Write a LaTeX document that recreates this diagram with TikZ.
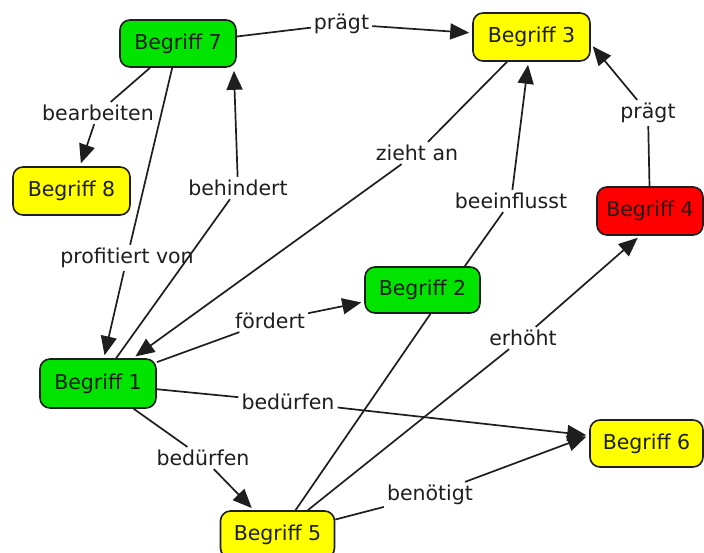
\documentclass[tikz,border=0pt]{standalone}
\usepackage{fontspec}
\setmainfont{DejaVu Sans}
\usetikzlibrary{arrows.meta,calc}
\definecolor{cgreen}{RGB}{0,228,0}
\definecolor{cyellow}{RGB}{255,255,0}
\definecolor{cred}{RGB}{255,0,0}
\definecolor{cline}{RGB}{30,30,30}
\begin{document}
\begin{tikzpicture}[x=1pt,y=-1pt,
  concept/.style={draw=cline, line width=1.6pt, rounded corners=10pt,
    minimum width=116pt, minimum height=47pt, inner sep=0pt,
    font=\fontsize{20.5}{23}\selectfont, text=cline},
  phrase/.style={inner sep=3pt, font=\fontsize{20.5}{23}\selectfont, text=cline},
  conn/.style={draw=cline, line width=1.7pt},
  arr/.style={conn, -{Triangle[length=19pt,width=16pt]}, shorten >=3pt}
]
\clip (0,0) rectangle (704,553);
\fill[white] (0,0) rectangle (704,553);

% concepts
\node[concept, fill=cgreen]  (B7) at (178,43.5)  {Begriff 7};
\node[concept, fill=cyellow, minimum width=117pt, minimum height=48pt] (B3) at (531.5,37) {Begriff 3};
\node[concept, fill=cyellow, minimum width=117pt, minimum height=48pt] (B8) at (71.5,191) {Begriff 8};
\node[concept, fill=cred, minimum width=106pt, minimum height=48pt] (B4) at (650,211) {Begriff 4};
\node[concept, fill=cgreen, minimum width=115pt, minimum height=46pt] (B2) at (422.5,290) {Begriff 2};
\node[concept, fill=cgreen, minimum height=49pt] (B1) at (98,383.5) {Begriff 1};
\node[concept, fill=cyellow, minimum width=113pt] (B6) at (646.5,443.5) {Begriff 6};
\node[concept, fill=cyellow, minimum width=114pt] (B5) at (277.5,534.5) {Begriff 5};

% linking phrases
\node[phrase] (p1)  at (341.5,24)  {prägt};
\node[phrase] (p2)  at (98,113)    {bearbeiten};
\node[phrase] (p3)  at (127,258)   {profitiert von};
\node[phrase] (p4)  at (238,188)   {behindert};
\node[phrase] (p5)  at (417,153)   {zieht an};
\node[phrase] (p6)  at (511,201)   {beeinflusst};
\node[phrase] (p7)  at (648,113)   {prägt};
\node[phrase] (p8)  at (270,321)   {fördert};
\node[phrase] (p9)  at (523,338)   {erhöht};
\node[phrase] (p10) at (288,402)   {bedürfen};
\node[phrase] (p11) at (203,458)   {bedürfen};
\node[phrase] (p12) at (430,495)   {benötigt};

\coordinate (B6in) at ([yshift=8pt]B6.west);

% connectors
\draw[conn] (B7) -- (p1);  \draw[arr] (p1) -- (B3);
\draw[conn] (B7) -- (p2);  \draw[arr] (p2) -- (B8);
\draw[conn] (B7) -- (p3);  \draw[arr] (p3) -- (B1);
\draw[conn] (B1) -- (p4);  \draw[arr] (p4) -- ([xshift=-3pt]B7.south east);
\draw[conn] (B3) -- (p5);  \draw[arr] (p5) -- (B1);
\draw[conn] ([xshift=-16pt]B2.north east) -- (p6); \draw[arr] (p6) -- (B3);
\draw[conn] (B4) -- (p7);  \draw[arr] (p7) -- ([yshift=-7pt]B3.east);
\draw[conn] (B1) -- (p8);  \draw[arr] (p8) -- (B2);
\draw[conn] (B5) -- (p9);  \draw[arr] (p9) -- ([xshift=-10pt]B4.south);
\draw[conn] (B1) -- (p10); \draw[arr] (p10) -- (B6in);
\draw[conn] (B1) -- (p11); \draw[arr] (p11) -- (B5);
\draw[conn] (B5) -- (p12); \draw[arr] (p12) -- (B6in);
\draw[conn] ([xshift=8pt]B2.south) -- ([xshift=18pt]B5.north);
\end{tikzpicture}
\end{document}
